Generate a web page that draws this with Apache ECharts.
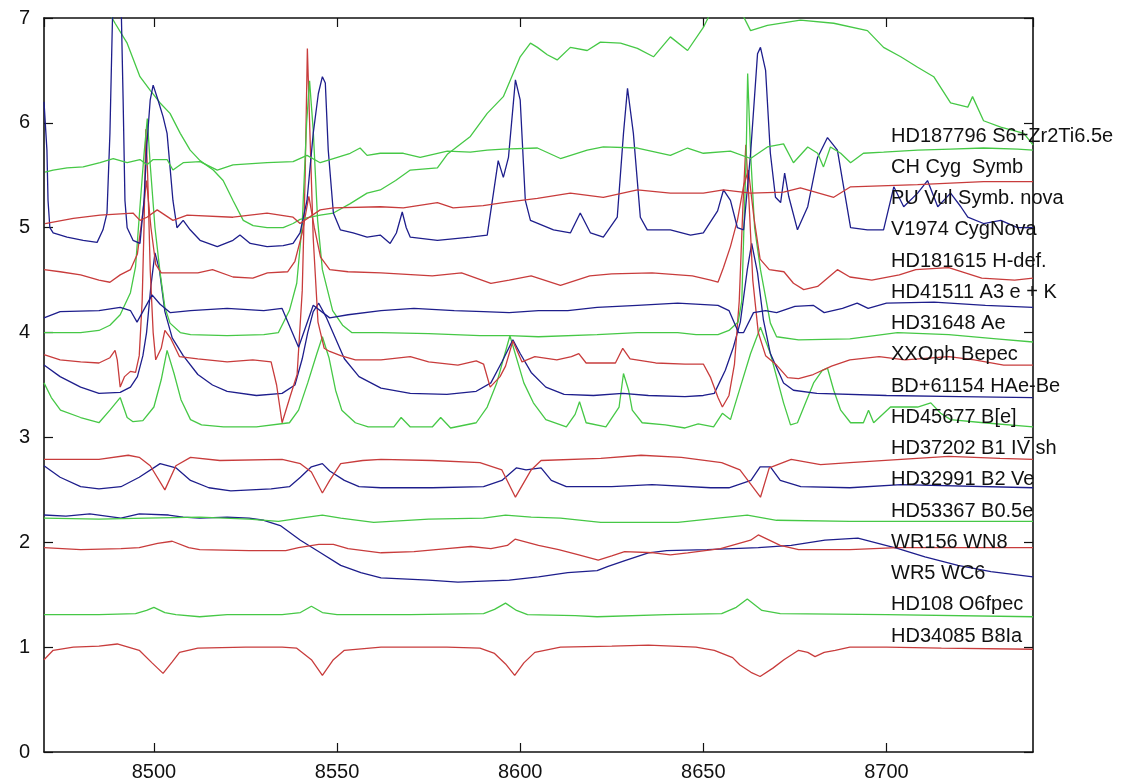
<!DOCTYPE html>
<html><head><meta charset="utf-8">
<script src="https://cdn.jsdelivr.net/npm/echarts@6/dist/echarts.min.js"></script>
<style>html,body{margin:0;padding:0;background:#fff}#c{width:1131px;height:784px}</style>
</head><body><div id="c"></div>
<script>
// wavelength (Angstrom), relative flux + offset
const xTicks = [8500, 8550, 8600, 8650, 8700];
const yTicks = [0, 1, 2, 3, 4, 5, 6, 7];

const hd34085 = [[8470,0.88],[8472.5,0.97],[8478,1.0],[8485,1.01],[8490,1.03],[8496,0.97],[8499.5,0.85],[8502.5,0.75],[8505,0.86],[8507,0.95],[8512,0.99],[8525,1.0],[8535,1.0],[8539,0.99],[8543,0.88],[8546,0.73],[8549,0.88],[8552,0.97],[8562,1.0],[8580,1.0],[8589,0.99],[8593,0.94],[8596,0.84],[8598.5,0.73],[8601,0.85],[8604,0.95],[8611,1.0],[8625,1.01],[8635,1.02],[8648,1.0],[8653,0.97],[8658,0.9],[8660,0.83],[8663,0.76],[8665.5,0.72],[8669,0.8],[8672,0.88],[8676,0.97],[8678.5,0.95],[8680.5,0.91],[8683,0.95],[8686,0.97],[8690,1.0],[8700,1.0],[8715,0.99],[8740,0.98]];
const hd108 = [[8470,1.31],[8485,1.31],[8495,1.32],[8498,1.35],[8500,1.38],[8503,1.33],[8506,1.31],[8512.5,1.29],[8520,1.31],[8535,1.31],[8540,1.33],[8543,1.39],[8546,1.33],[8550,1.31],[8570,1.31],[8590,1.32],[8593,1.36],[8596,1.42],[8599,1.35],[8602,1.31],[8615,1.30],[8621,1.29],[8640,1.31],[8655,1.32],[8659,1.38],[8662,1.46],[8666,1.35],[8671,1.32],[8700,1.31],[8740,1.29]];
const wr5 = [[8470,2.26],[8476,2.25],[8482.5,2.27],[8487,2.25],[8491,2.23],[8496,2.27],[8504,2.26],[8508,2.24],[8512.5,2.23],[8520,2.24],[8526,2.23],[8530,2.21],[8534.5,2.16],[8540,2.02],[8545.5,1.90],[8551,1.78],[8556.5,1.71],[8562,1.66],[8575,1.64],[8583,1.62],[8597,1.64],[8605,1.67],[8613,1.71],[8621,1.73],[8624,1.77],[8629,1.83],[8635,1.90],[8640,1.92],[8651,1.93],[8665,1.95],[8674,1.97],[8683.2,2.02],[8692.2,2.04],[8697.7,1.99],[8703.2,1.94],[8710.5,1.86],[8719.5,1.78],[8728.5,1.72],[8740,1.67]];
const wr156 = [[8470,1.95],[8480,1.93],[8491,1.94],[8496,1.95],[8501,1.99],[8505,2.01],[8509.5,1.95],[8512.5,1.93],[8526,1.92],[8536,1.92],[8539.5,1.95],[8545,1.98],[8549,1.98],[8553,1.94],[8562,1.90],[8571,1.91],[8580,1.94],[8586.5,1.96],[8592,1.94],[8596.5,1.97],[8598.6,2.03],[8605,1.97],[8610.5,1.93],[8616,1.88],[8621.3,1.83],[8625,1.87],[8628.5,1.91],[8636.5,1.90],[8641,1.88],[8645.7,1.90],[8654.7,1.94],[8662.9,2.02],[8665,2.07],[8671,1.97],[8676,1.93],[8690,1.93],[8703,1.95],[8740,1.95]];
const hd53367 = [[8470,2.23],[8485,2.22],[8498,2.23],[8512.5,2.24],[8526,2.22],[8534,2.20],[8540,2.23],[8546,2.26],[8551,2.23],[8560,2.19],[8575,2.22],[8590,2.23],[8596,2.26],[8603,2.24],[8611,2.23],[8622,2.19],[8643,2.19],[8654,2.23],[8662,2.26],[8670,2.21],[8690,2.20],[8740,2.20]];
const hd32991 = [[8470,2.73],[8474.4,2.62],[8480,2.53],[8485,2.51],[8491,2.53],[8496,2.62],[8501.7,2.75],[8506,2.71],[8510,2.59],[8515,2.52],[8521,2.49],[8532,2.51],[8537,2.53],[8540,2.62],[8543,2.72],[8546,2.75],[8548,2.68],[8552,2.59],[8556,2.53],[8562,2.52],[8576,2.52],[8590,2.53],[8595,2.59],[8599,2.71],[8601.6,2.69],[8605.7,2.71],[8608.5,2.59],[8612.6,2.53],[8625,2.53],[8636,2.55],[8652,2.52],[8657,2.52],[8663,2.59],[8665.5,2.72],[8668.3,2.72],[8671,2.59],[8676.6,2.53],[8690,2.52],[8704,2.55],[8740,2.52]];
const hd37202 = [[8470,2.79],[8485,2.79],[8493,2.83],[8496,2.81],[8499,2.73],[8503,2.50],[8506,2.73],[8510,2.81],[8518,2.78],[8535,2.79],[8540,2.75],[8543,2.67],[8546,2.47],[8548,2.59],[8551,2.75],[8557,2.78],[8562,2.79],[8576,2.78],[8589,2.76],[8595,2.69],[8598.7,2.43],[8603,2.69],[8605.7,2.78],[8622,2.80],[8633,2.83],[8644,2.81],[8655,2.76],[8660,2.69],[8665.6,2.43],[8668,2.71],[8674,2.79],[8682,2.74],[8690,2.76],[8704,2.79],[8717,2.82],[8731,2.80],[8740,2.79]];
const hd45677 = [[8470,3.52],[8472,3.38],[8474.5,3.26],[8480,3.19],[8485,3.14],[8488,3.26],[8490.8,3.38],[8492.7,3.19],[8494.3,3.15],[8497,3.16],[8500,3.29],[8502,3.55],[8503.6,3.83],[8505.5,3.61],[8507.4,3.36],[8510,3.17],[8513,3.12],[8519,3.10],[8528,3.10],[8537,3.14],[8539.5,3.26],[8542,3.52],[8544.5,3.80],[8546,3.96],[8547.8,3.76],[8549.6,3.45],[8551.3,3.26],[8555,3.14],[8558.5,3.10],[8565.5,3.10],[8567.5,3.19],[8570,3.10],[8576,3.10],[8578.3,3.19],[8581,3.09],[8588,3.14],[8591,3.29],[8593.6,3.52],[8597.2,3.97],[8601,3.52],[8603.6,3.33],[8607,3.17],[8612.6,3.10],[8615,3.22],[8616.2,3.34],[8618,3.14],[8623.4,3.10],[8627,3.29],[8628.2,3.61],[8629.6,3.45],[8630.6,3.26],[8633.3,3.14],[8639.6,3.12],[8645,3.09],[8648.6,3.13],[8652.8,3.10],[8655.2,3.23],[8657.4,3.17],[8660.1,3.48],[8662.9,3.80],[8665.6,4.05],[8668.3,3.80],[8671.9,3.33],[8673.8,3.12],[8675.7,3.14],[8680.1,3.52],[8682.5,3.64],[8683.9,3.66],[8685.6,3.45],[8687.5,3.26],[8690.2,3.14],[8693.7,3.14],[8695.1,3.26],[8696.5,3.14],[8701.1,3.29],[8708.5,3.29],[8712.1,3.33],[8714.8,3.23],[8717.5,3.17],[8726.5,3.14],[8740,3.10]];
const bd61154 = [[8470,3.69],[8474.4,3.58],[8480,3.48],[8485,3.42],[8490.8,3.43],[8493.6,3.48],[8495.5,3.58],[8497,3.78],[8498,4.0],[8499.2,4.45],[8500.3,4.76],[8501.5,4.6],[8503,4.2],[8505,3.95],[8508,3.78],[8512,3.6],[8516,3.5],[8520,3.44],[8528,3.40],[8535,3.42],[8538.5,3.5],[8540.5,3.75],[8542,4.0],[8543.5,4.2],[8545,4.28],[8547,4.15],[8549.5,3.95],[8552,3.75],[8556,3.58],[8562,3.47],[8570,3.42],[8580,3.41],[8588,3.44],[8592,3.52],[8595,3.72],[8598,3.93],[8600,3.8],[8603,3.62],[8607,3.48],[8612,3.41],[8620,3.40],[8628,3.42],[8635,3.40],[8645,3.39],[8650,3.40],[8653,3.42],[8656,3.64],[8658.2,3.86],[8660.1,4.1],[8662,4.6],[8663.2,4.85],[8664.8,4.57],[8666.4,4.12],[8668.3,3.80],[8671.9,3.52],[8674.6,3.45],[8681,3.42],[8700,3.40],[8720,3.39],[8740,3.38]];
const xxoph = [[8470,3.79],[8474.4,3.74],[8480,3.72],[8485,3.71],[8488,3.76],[8489.4,3.83],[8490,3.74],[8490.8,3.48],[8492,3.58],[8493.6,3.63],[8495,3.62],[8496,3.78],[8496.8,4.3],[8497.3,5.0],[8497.8,5.94],[8498.3,5.5],[8499,4.6],[8499.8,4.0],[8500.5,3.74],[8502,3.85],[8503,4.02],[8504.5,3.95],[8507,3.77],[8512,3.75],[8520,3.72],[8527,3.74],[8532,3.72],[8533.5,3.50],[8535,3.14],[8537.2,3.39],[8539.1,3.6],[8540.5,4.4],[8541.3,5.5],[8541.9,6.71],[8542.6,5.9],[8543.5,4.9],[8544.8,4.1],[8546.5,3.85],[8548,3.82],[8551,3.78],[8555,3.74],[8562,3.74],[8570,3.77],[8575,3.72],[8583,3.69],[8588,3.73],[8590,3.70],[8591.8,3.48],[8594.5,3.58],[8596,3.68],[8598,3.92],[8600.5,3.72],[8604,3.77],[8610,3.74],[8614,3.77],[8616,3.80],[8618,3.71],[8626,3.71],[8628,3.85],[8630,3.75],[8637,3.71],[8645,3.70],[8650,3.70],[8652,3.57],[8654,3.38],[8655.2,3.29],[8657,3.4],[8658.5,3.7],[8659.8,4.3],[8660.8,5.2],[8661.6,5.79],[8662.4,5.3],[8663.5,4.5],[8665,4.0],[8667,3.78],[8670,3.69],[8673,3.57],[8676,3.56],[8680,3.60],[8685,3.68],[8690,3.74],[8698,3.77],[8705,3.74],[8717,3.77],[8724,3.74],[8732,3.69],[8740,3.69]];
const hd31648 = [[8470,4.0],[8480,4.0],[8485,4.02],[8488,4.07],[8490.8,4.17],[8493.6,4.38],[8495,4.63],[8496.2,5.2],[8497.3,5.7],[8498.2,6.04],[8499,5.6],[8500.3,5.0],[8501.7,4.57],[8503,4.24],[8504.4,4.09],[8507.2,4.0],[8510,3.98],[8520,3.97],[8530,3.98],[8534,4.0],[8537,4.21],[8539,4.47],[8540.5,5.04],[8541.7,6.0],[8542.5,6.4],[8543.5,5.93],[8544.7,5.07],[8546,4.6],[8548.8,4.21],[8551.5,4.07],[8554,4.0],[8562,4.0],[8575,3.99],[8589,3.97],[8597,3.97],[8605,3.96],[8621,3.98],[8632,4.0],[8643,4.0],[8648,3.98],[8654,3.98],[8657,4.02],[8659.5,4.1],[8660.5,4.3],[8661,4.9],[8661.7,5.7],[8662.1,6.47],[8662.9,5.71],[8664,5.0],[8665.6,4.6],[8668.3,4.09],[8670,3.96],[8676,3.93],[8690,3.94],[8703,4.0],[8717,3.98],[8730,3.94],[8740,3.91]];
const hd41511 = [[8470,4.14],[8474.4,4.20],[8485,4.21],[8490.8,4.24],[8493.6,4.21],[8495.4,4.10],[8499.5,4.36],[8501.7,4.27],[8504.5,4.19],[8510,4.21],[8520,4.23],[8530,4.21],[8535,4.23],[8539.5,3.86],[8543.5,4.26],[8548,4.14],[8553,4.17],[8562,4.21],[8571,4.23],[8582,4.21],[8590,4.20],[8597,4.19],[8605,4.21],[8613,4.21],[8621,4.24],[8632,4.26],[8643,4.28],[8654,4.26],[8657,4.21],[8659.6,4.0],[8661,4.0],[8663.7,4.19],[8667,4.21],[8670,4.19],[8675,4.25],[8680,4.26],[8683,4.19],[8688,4.23],[8692,4.28],[8695,4.23],[8700,4.28],[8713,4.29],[8727,4.26],[8740,4.24]];
const hd181615 = [[8470,4.60],[8474.4,4.58],[8480,4.55],[8485,4.50],[8488,4.48],[8490.8,4.55],[8493.6,4.60],[8495.5,4.75],[8497,5.15],[8498,5.45],[8499.2,5.0],[8500.5,4.65],[8502,4.57],[8506,4.57],[8512,4.57],[8516,4.60],[8521.6,4.53],[8527,4.52],[8531,4.57],[8536.5,4.58],[8538.5,4.68],[8540.5,4.95],[8542.3,5.3],[8543.8,5.0],[8545.5,4.72],[8548,4.60],[8553,4.58],[8562,4.57],[8576,4.54],[8584,4.57],[8592,4.47],[8597,4.50],[8603,4.54],[8611,4.45],[8619,4.54],[8625,4.56],[8636,4.57],[8647,4.54],[8652,4.50],[8654,4.48],[8655.5,4.62],[8657.4,4.82],[8659.3,5.07],[8661,5.4],[8662.3,5.55],[8663.8,5.1],[8665.5,4.7],[8668,4.60],[8672,4.58],[8674.6,4.47],[8677.4,4.41],[8681.2,4.44],[8686.6,4.6],[8690,4.53],[8696,4.50],[8703.5,4.55],[8708,4.6],[8717,4.62],[8726,4.52],[8735,4.50],[8740,4.52]];
const v1974 = [[8484,7.8],[8488.6,7.0],[8489.4,6.95],[8492.7,6.76],[8496.2,6.44],[8499.0,6.31],[8501.7,6.19],[8504.4,6.09],[8507.2,5.90],[8509.9,5.74],[8512.6,5.64],[8516.2,5.55],[8518.9,5.45],[8521.6,5.26],[8524.4,5.07],[8527.1,5.02],[8530.9,5.0],[8535.3,5.0],[8538.0,5.04],[8539.9,5.08],[8542.7,5.10],[8545.4,5.12],[8549.0,5.14],[8553.6,5.23],[8558.2,5.33],[8561.8,5.36],[8566,5.45],[8570,5.55],[8577.4,5.57],[8580.1,5.70],[8586.4,5.87],[8591.0,6.09],[8595.4,6.25],[8600.0,6.63],[8602.8,6.76],[8604.7,6.72],[8607.4,6.65],[8610.1,6.60],[8613.7,6.72],[8618.3,6.69],[8621.9,6.77],[8627.4,6.76],[8632.0,6.71],[8636.4,6.63],[8641.0,6.82],[8645.7,6.69],[8650.0,6.91],[8652,7.05],[8656,7.12],[8660,7.08],[8662.9,6.88],[8667.5,6.93],[8676.5,6.98],[8685.6,6.95],[8694.8,6.88],[8699.2,6.72],[8703.9,6.63],[8708.5,6.53],[8712.9,6.44],[8717.5,6.19],[8722.2,6.15],[8723.5,6.25],[8726.5,6.02],[8731.2,5.96],[8737.5,5.90],[8740,5.79]];
const puvul = [[8470,6.2],[8470.8,5.74],[8471.1,5.26],[8471.6,5.0],[8472.5,4.95],[8476.3,4.91],[8480.7,4.88],[8484.5,4.86],[8486.1,4.98],[8487.2,5.14],[8488.0,5.9],[8488.6,6.85],[8489.1,7.6],[8490,8.0],[8490.9,7.4],[8491.6,6.22],[8492.1,5.26],[8492.7,5.0],[8494.3,4.88],[8496.2,4.85],[8497.3,5.26],[8498.1,5.8],[8499.0,6.22],[8499.8,6.36],[8501.1,6.22],[8502.5,6.06],[8503.6,5.9],[8504.4,5.58],[8505.2,5.26],[8506.3,5.0],[8508.0,5.07],[8509.9,4.98],[8512.6,4.88],[8517.3,4.82],[8521.6,4.88],[8523.5,4.93],[8526.3,4.85],[8530.9,4.82],[8535.3,4.83],[8538.0,4.85],[8539.9,4.95],[8541.8,5.26],[8543.5,5.9],[8544.9,6.28],[8546.0,6.44],[8546.8,6.38],[8547.6,5.74],[8549.0,5.14],[8550.9,4.98],[8554.4,4.95],[8558.2,4.91],[8561.8,4.93],[8564.5,4.85],[8566.2,4.95],[8567.8,5.15],[8568.9,5.0],[8570.0,4.91],[8577.4,4.88],[8586.4,4.91],[8591.0,4.93],[8592.7,5.33],[8594.0,5.64],[8595.4,5.48],[8596.8,5.67],[8598.7,6.41],[8600.0,6.22],[8601.4,5.26],[8602.8,5.07],[8609.1,4.98],[8613.7,4.95],[8616.4,5.14],[8619.2,4.95],[8622.7,4.91],[8626.5,5.10],[8628.2,5.9],[8629.3,6.33],[8630.9,5.9],[8632.8,5.10],[8634.7,4.98],[8641.0,4.98],[8646.5,4.93],[8650.0,4.95],[8653.9,5.16],[8655.5,5.36],[8657.4,5.26],[8659.3,5.0],[8661.0,4.98],[8662.9,5.71],[8664.8,6.66],[8665.6,6.72],[8667.0,6.5],[8668.3,5.71],[8669.7,5.29],[8671.1,5.24],[8672.2,5.52],[8673.3,5.3],[8675.7,4.98],[8678.5,5.2],[8681.2,5.67],[8683.9,5.86],[8686.6,5.74],[8688.3,5.39],[8690.2,5.0],[8694.8,4.98],[8699.2,4.98],[8702.0,5.39],[8704.7,5.2],[8708.5,5.33],[8711.2,5.45],[8714.0,5.2],[8717.5,5.33],[8720.3,5.2],[8722.2,5.1],[8726.5,5.04],[8731.2,5.07],[8735.8,5.0],[8740,5.0]];
const chcyg = [[8470.3,5.04],[8478,5.09],[8485.3,5.12],[8494.3,5.14],[8496.2,5.07],[8498.1,5.10],[8500.9,5.17],[8505.2,5.07],[8509.1,5.12],[8521.6,5.10],[8530.9,5.14],[8538.0,5.10],[8539.9,5.04],[8545.4,5.17],[8549.0,5.19],[8561.8,5.20],[8568.1,5.19],[8577.4,5.24],[8581.7,5.19],[8589.9,5.21],[8595.4,5.24],[8604.7,5.28],[8613.7,5.33],[8622.7,5.29],[8632.0,5.36],[8641.0,5.33],[8650.0,5.33],[8655.5,5.36],[8662.9,5.33],[8671.9,5.34],[8676.5,5.38],[8685.6,5.29],[8690.2,5.39],[8708.5,5.41],[8726.5,5.44],[8740,5.44]];
const hd187796 = [[8470.3,5.53],[8472.5,5.55],[8476.3,5.57],[8480.7,5.58],[8485.3,5.62],[8488.9,5.66],[8492.7,5.62],[8496.2,5.65],[8498.1,5.60],[8499.8,5.65],[8503.6,5.65],[8505.2,5.55],[8508,5.62],[8512.6,5.63],[8517.3,5.55],[8521.6,5.60],[8530.9,5.62],[8538,5.63],[8541.8,5.69],[8545.4,5.62],[8549,5.66],[8553.6,5.71],[8556.3,5.76],[8558.2,5.69],[8561.8,5.71],[8568.1,5.71],[8572.7,5.67],[8580.1,5.73],[8586.4,5.72],[8591,5.74],[8595.4,5.75],[8604.7,5.76],[8611,5.66],[8618.3,5.74],[8622.7,5.77],[8632,5.76],[8641,5.69],[8645.7,5.76],[8650,5.71],[8657.4,5.73],[8662.9,5.66],[8667.5,5.77],[8671.9,5.80],[8674.6,5.62],[8678.5,5.77],[8681.2,5.71],[8682.8,5.58],[8684.7,5.77],[8687.5,5.71],[8690.2,5.62],[8693.7,5.71],[8699.2,5.72],[8708.5,5.74],[8717.5,5.75],[8726.5,5.76],[8735.8,5.75],[8740,5.74]];

const RED = '#c83c3c', GREEN = '#46c846', BLUE = '#1e1e8c';
// bottom to top
const spectra = [
  ['HD34085 B8Ia', hd34085, RED],
  ['HD108 O6fpec', hd108, GREEN],
  ['WR5 WC6', wr5, BLUE],
  ['WR156 WN8', wr156, RED],
  ['HD53367 B0.5e', hd53367, GREEN],
  ['HD32991 B2 Ve', hd32991, BLUE],
  ['HD37202 B1 IV sh', hd37202, RED],
  ['HD45677 B[e]', hd45677, GREEN],
  ['BD+61154 HAe-Be', bd61154, BLUE],
  ['XXOph Bepec', xxoph, RED],
  ['HD31648 Ae', hd31648, GREEN],
  ['HD41511 A3 e + K', hd41511, BLUE],
  ['HD181615 H-def.', hd181615, RED],
  ['V1974 CygNova', v1974, GREEN],
  ['PU Vul Symb. nova', puvul, BLUE],
  ['CH Cyg  Symb', chcyg, RED],
  ['HD187796 S6+Zr2Ti6.5e', hd187796, GREEN]
];

const chart = echarts.init(document.getElementById('c'), null, {renderer: 'canvas'});
const frameLine = {show: true, onZero: false, lineStyle: {color: '#111', width: 1.6}};
const tick = {show: true, inside: true, length: 9, lineStyle: {color: '#111', width: 1.2}};
const xFmt = v => (xTicks.indexOf(v) >= 0 ? String(v) : '');
const yFmt = v => (yTicks.indexOf(v) >= 0 ? String(v) : '');
chart.setOption({
  animation: false,
  backgroundColor: '#fff',
  grid: {left: 44, right: 98, top: 18, bottom: 32, containLabel: false},
  legend: {
    orient: 'vertical', left: 881, top: 121, icon: 'none', itemWidth: 0, itemHeight: 20, itemGap: 11.25,
    selectedMode: false,
    data: spectra.map(s => s[0]).reverse(),
    textStyle: {fontFamily: 'Liberation Sans, Arial, sans-serif', fontSize: 20, color: '#111', lineHeight: 20}
  },
  xAxis: [
    {type: 'value', position: 'bottom', min: 8470, max: 8740, splitNumber: 5,
     axisLine: frameLine, axisTick: tick, splitLine: {show: false},
     axisLabel: {show: true, formatter: xFmt, showMinLabel: false, showMaxLabel: false, margin: 10,
                 fontFamily: 'Liberation Sans, Arial, sans-serif', fontSize: 20, color: '#111'}},
    {type: 'value', position: 'top', min: 8470, max: 8740, splitNumber: 5,
     axisLine: frameLine, axisTick: tick, splitLine: {show: false}, axisLabel: {show: false}}
  ],
  yAxis: [
    {type: 'value', position: 'left', min: 0, max: 7, interval: 1,
     axisLine: frameLine, axisTick: tick, splitLine: {show: false},
     axisLabel: {show: true, formatter: yFmt, margin: 14,
                 fontFamily: 'Liberation Sans, Arial, sans-serif', fontSize: 20, color: '#111'}},
    {type: 'value', position: 'right', min: 0, max: 7, interval: 1,
     axisLine: frameLine, axisTick: tick, splitLine: {show: false}, axisLabel: {show: false}}
  ],
  series: spectra.map(s => ({
    name: s[0], type: 'line', data: s[1], xAxisIndex: 0, yAxisIndex: 0,
    showSymbol: false, symbol: 'none', clip: true, smooth: false,
    lineStyle: {color: s[2], width: 1.3}, itemStyle: {color: s[2]},
    emphasis: {disabled: true}
  }))
});
</script></body></html>
